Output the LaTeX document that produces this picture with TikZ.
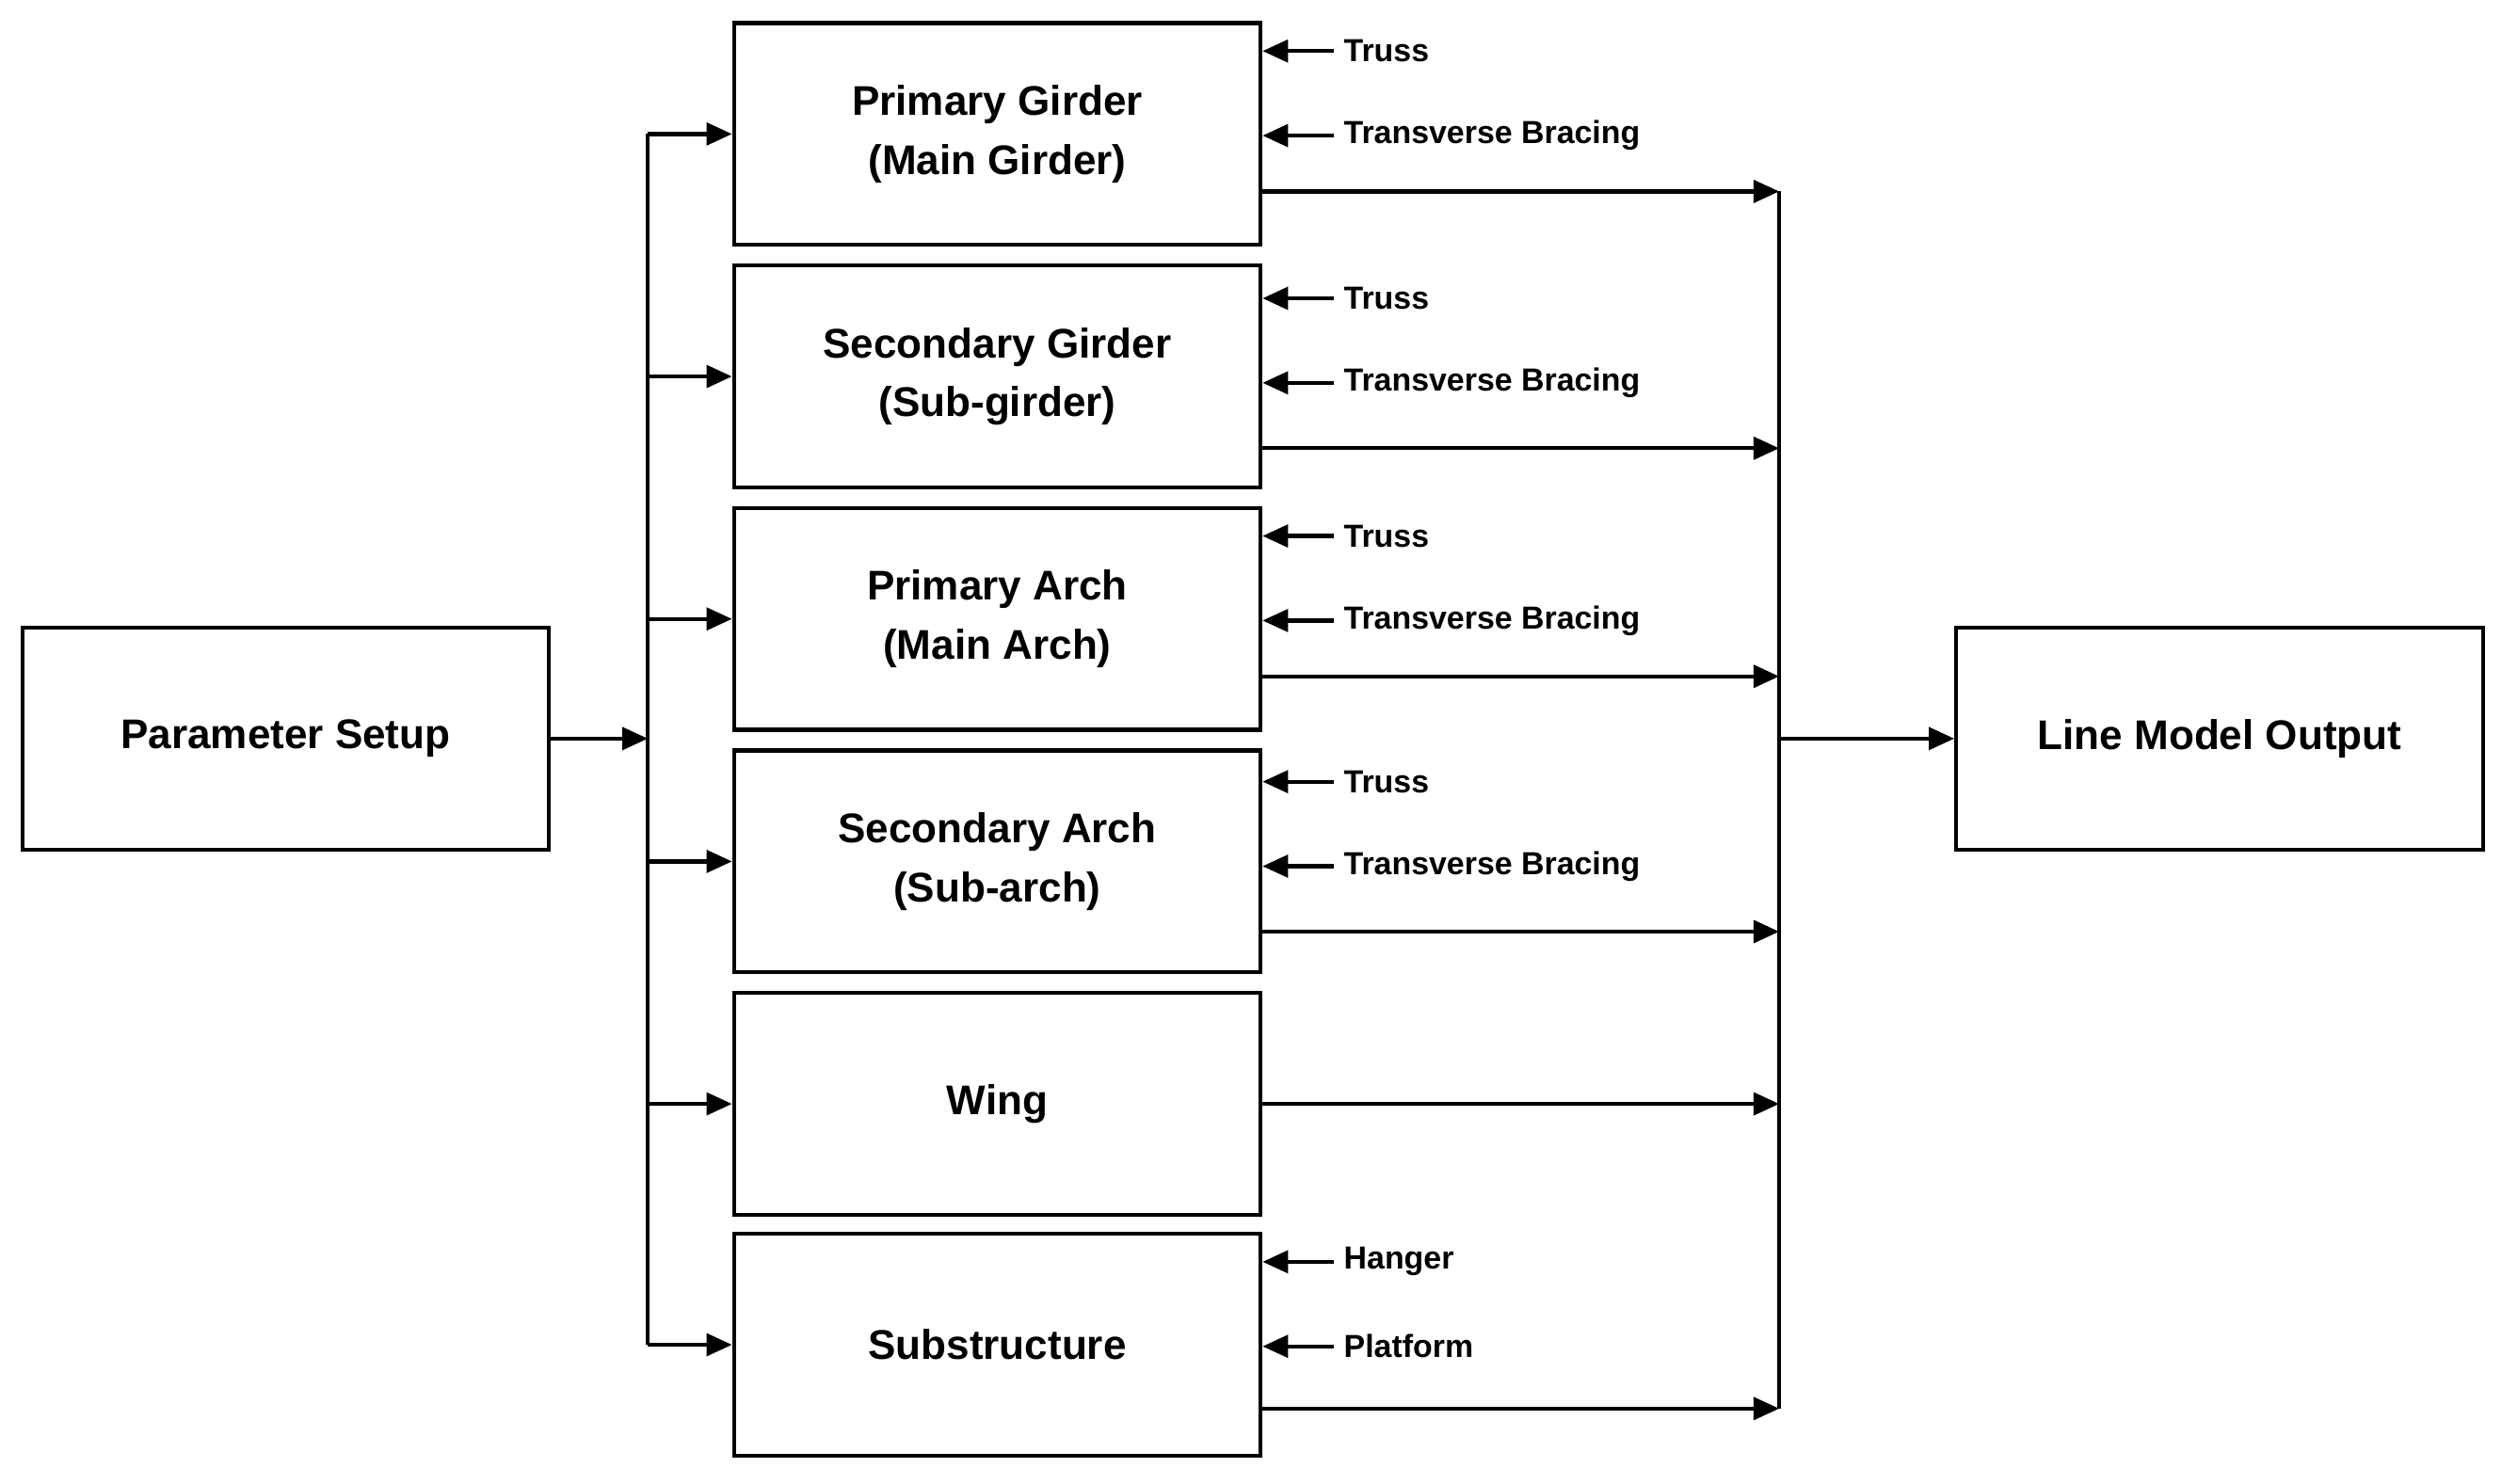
\documentclass[tikz,border=0pt]{standalone}
\usepackage{fontspec}
\setmainfont{Liberation Sans}
\usetikzlibrary{arrows.meta}
\begin{document}
\begin{tikzpicture}[x=1pt,y=-1pt,
  box/.style={draw,line width=2.5pt,minimum width=330pt,minimum height=139pt,align=center,font=\bfseries\fontsize{26}{37}\selectfont,inner sep=0pt},
  lab/.style={anchor=west,font=\bfseries\fontsize{20}{24}\selectfont,inner sep=0pt},
  arr/.style={line width=2.5pt,-{Triangle[length=16pt,width=14pt]}},
  ln/.style={line width=2.5pt}]
\useasboundingbox (0,0) rectangle (1568,930);
\node[box] (ps) at (179,463) {Parameter Setup};
\node[box] (lo) at (1391,463) {Line Model Output};
\node[box] (b1) at (625,84) {Primary Girder\\(Main Girder)};
\node[box] (b2) at (625,236) {Secondary Girder\\(Sub-girder)};
\node[box] (b3) at (625,388) {Primary Arch\\(Main Arch)};
\node[box] (b4) at (625,540) {Secondary Arch\\(Sub-arch)};
\node[box] (b5) at (625,692) {Wing};
\node[box] (b6) at (625,843) {Substructure};
\coordinate (lt) at (406,84); \coordinate (lb) at (406,843); \coordinate (lm) at (406,463);
\coordinate (rt) at (1115,120); \coordinate (rb) at (1115,883); \coordinate (rm) at (1115,463);
\draw[ln] (lt) -- (lb);
\draw[ln] (rt) -- (rb);
\draw[arr] (ps) -- (lm);
\draw[arr] (rm) -- (lo);
\foreach \b in {b1,b2,b3,b4,b5,b6}{\draw[arr] (406,0 |- \b) -- (\b.west);}
\foreach \b/\y in {b1/120,b2/281,b3/424,b4/584,b5/692,b6/883}{
  \coordinate (o\b) at (\b.east |- 0,\y);
  \coordinate (i\b) at (1115,\y);
  \draw[arr] (o\b) -- (i\b);}
\foreach \b/\ya/\yb/\ta/\tb in {b1/32/85/Truss/Transverse Bracing,b2/187/240/Truss/Transverse Bracing,b3/336/389/Truss/Transverse Bracing,b4/490/543/Truss/Transverse Bracing,b6/791/844/Hanger/Platform}{
  \node[lab] (la\b) at (842,\ya) {\ta};
  \node[lab] (lb\b) at (842,\yb) {\tb};
  \draw[arr] (la\b.west) ++(-6,0) -- (\b.east |- 0,\ya);
  \draw[arr] (lb\b.west) ++(-6,0) -- (\b.east |- 0,\yb);}
\end{tikzpicture}
\end{document}
